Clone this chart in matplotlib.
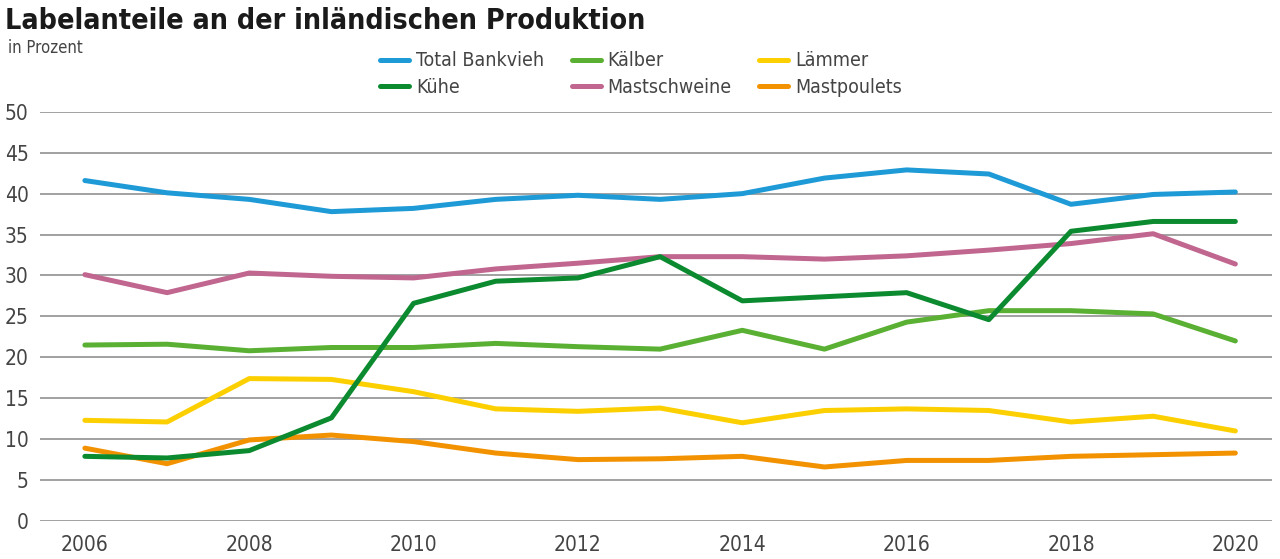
import matplotlib.pyplot as plt
import numpy as np

years = list(range(2006, 2021))

total_bankvieh = [41.6, 40.1, 39.3, 37.8, 38.2, 39.3, 39.8, 39.3, 40.0, 41.9, 42.9, 42.4, 38.7, 39.9, 40.2]
kuehe = [7.9, 7.7, 8.6, 12.6, 26.6, 29.3, 29.7, 32.3, 26.9, 27.4, 27.9, 24.6, 35.4, 36.6, 36.6]
kaelber = [21.5, 21.6, 20.8, 21.2, 21.2, 21.7, 21.3, 21.0, 23.3, 21.0, 24.3, 25.7, 25.7, 25.3, 22.0]
mastschweine = [30.1, 27.9, 30.3, 29.9, 29.7, 30.8, 31.5, 32.3, 32.3, 32.0, 32.4, 33.1, 33.9, 35.1, 31.4]
laemmer = [12.3, 12.1, 17.4, 17.3, 15.8, 13.7, 13.4, 13.8, 12.0, 13.5, 13.7, 13.5, 12.1, 12.8, 11.0]
mastpoulets = [8.9, 7.0, 9.9, 10.5, 9.7, 8.3, 7.5, 7.6, 7.9, 6.6, 7.4, 7.4, 7.9, 8.1, 8.3]

# legend order is column-wise: col1 Total/Kühe, col2 Kälber/Mastschweine, col3 Lämmer/Mastpoulets
series = [
	("Total Bankvieh", total_bankvieh, "#1e9ad6"),
	("Kühe", kuehe, "#0b8a2f"),
	("Kälber", kaelber, "#5ab033"),
	("Mastschweine", mastschweine, "#c0668f"),
	("Lämmer", laemmer, "#fcd000"),
	("Mastpoulets", mastpoulets, "#f39200"),
]

font = ['Liberation Sans Narrow', 'DejaVu Sans']
plt.rcParams['font.family'] = font
plt.rcParams['font.stretch'] = 'condensed'

fig = plt.figure(figsize=(12.8, 5.59), dpi=100)
ax = fig.add_axes([0.031, 0.068, 0.963, 0.732])

# draw order: pink/blue under, greens above
z = {"Total Bankvieh": 3, "Mastschweine": 3, "Kälber": 4, "Lämmer": 4, "Mastpoulets": 4, "Kühe": 5}
for name, vals, col in series:
	ax.plot(years, vals, color=col, linewidth=3.6, label=name, solid_capstyle='round', solid_joinstyle='round', zorder=z[name])

ax.set_ylim(0, 50)
ax.set_xlim(2005.45, 2020.45)
ax.set_yticks(range(0, 51, 5))
ax.set_xticks(range(2006, 2021, 2))
ax.yaxis.grid(True, color='#9a9a9a', linewidth=1.3)
ax.set_axisbelow(True)
for s in ax.spines.values():
	s.set_visible(False)
ax.tick_params(axis='both', length=0, labelsize=15, colors='#444444')
ax.tick_params(axis='y', pad=8)
ax.tick_params(axis='x', pad=10)
for lbl in ax.get_yticklabels():
	lbl.set_horizontalalignment('right')

fig.text(0.004, 0.962, "Labelanteile an der inländischen Produktion", fontsize=20.5, fontweight='bold', color='#1a1a1a', va='center', ha='left')
fig.text(0.006, 0.915, "in Prozent", fontsize=12, color='#444444', va='center', ha='left')

fig.legend(loc='upper left', bbox_to_anchor=(0.291, 0.922), ncol=3, frameon=False, fontsize=14,
	handlelength=1.5, handletextpad=0.35, columnspacing=1.4, labelspacing=0.38, borderaxespad=0, labelcolor='#444444')

plt.savefig('out.png', dpi=100)
